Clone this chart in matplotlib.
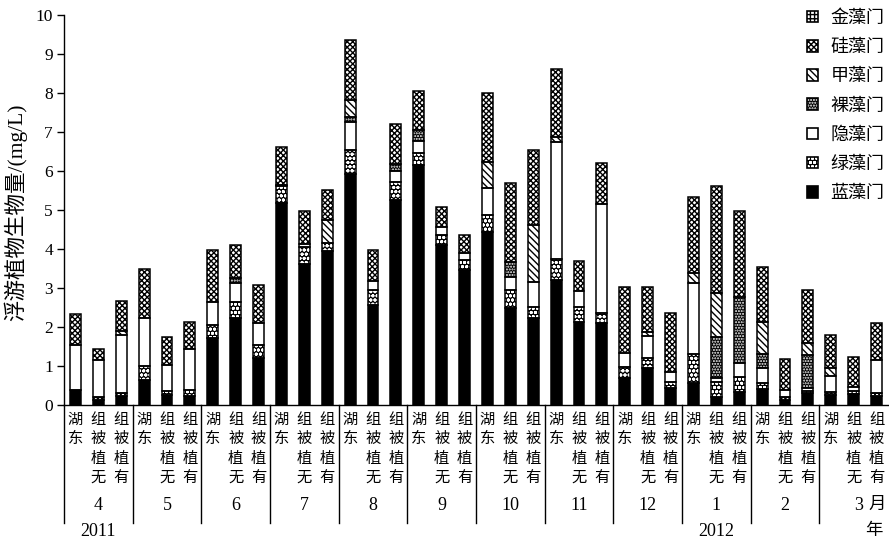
import matplotlib
matplotlib.use('Agg')
import matplotlib.pyplot as plt
from matplotlib.patches import Patch
import numpy as np

# ---------------- data ----------------
months = ['4', '5', '6', '7', '8', '9', '10', '11', '12', '1', '2', '3']
groups = ['东湖', '无植被组', '有植被组']
years = ['2011', '2012']
phyla = ['蓝藻门', '绿藻门', '隐藻门', '裸藻门', '甲藻门', '硅藻门', '金藻门']

cyano = [0.38, 0.12, 0.22, 0.64, 0.26, 0.23, 1.71, 2.22, 1.20,
         5.19, 3.61, 3.95, 5.92, 2.56, 5.26, 6.15, 4.10, 3.46,
         4.43, 2.48, 2.22, 3.21, 2.14, 2.09, 0.68, 0.94, 0.43,
         0.56, 0.21, 0.34, 0.40, 0.13, 0.30, 0.26, 0.28, 0.24]
chloro = [0.00, 0.09, 0.10, 0.36, 0.09, 0.15, 0.34, 0.43, 0.34,
          0.43, 0.45, 0.20, 0.62, 0.39, 0.47, 0.30, 0.26, 0.26,
          0.44, 0.47, 0.30, 0.53, 0.38, 0.26, 0.30, 0.26, 0.17,
          0.75, 0.39, 0.39, 0.16, 0.08, 0.06, 0.08, 0.07, 0.08]
crypto = [1.16, 0.94, 1.47, 1.22, 0.68, 1.05, 0.60, 0.47, 0.57,
          0.03, 0.07, 0.00, 0.72, 0.24, 0.28, 0.33, 0.21, 0.17,
          0.69, 0.34, 0.64, 3.00, 0.41, 2.80, 0.35, 0.57, 0.25,
          1.83, 0.08, 0.34, 0.38, 0.17, 0.07, 0.40, 0.12, 0.83]
eugleno = [0.00, 0.00, 0.00, 0.00, 0.00, 0.00, 0.00, 0.13, 0.00,
           0.00, 0.00, 0.00, 0.13, 0.00, 0.18, 0.27, 0.00, 0.00,
           0.00, 0.38, 0.00, 0.00, 0.00, 0.00, 0.00, 0.00, 0.00,
           0.00, 1.07, 1.71, 0.38, 0.00, 0.84, 0.00, 0.00, 0.00]
pyrro = [0.00, 0.00, 0.10, 0.00, 0.00, 0.00, 0.00, 0.00, 0.00,
         0.00, 0.00, 0.60, 0.43, 0.00, 0.00, 0.00, 0.00, 0.00,
         0.68, 0.00, 1.46, 0.13, 0.00, 0.00, 0.00, 0.10, 0.00,
         0.25, 1.11, 0.00, 0.82, 0.00, 0.32, 0.20, 0.00, 0.00]
bacillario = [0.79, 0.29, 0.78, 1.26, 0.72, 0.71, 1.32, 0.85, 0.97,
              0.97, 0.85, 0.76, 1.54, 0.78, 1.01, 1.00, 0.50, 0.47,
              1.77, 2.03, 1.92, 1.75, 0.77, 1.06, 1.70, 1.16, 1.52,
              1.95, 2.76, 2.20, 1.39, 0.79, 1.36, 0.85, 0.75, 0.96]
chryso = [0.0] * 36

series = [cyano, chloro, crypto, eugleno, pyrro, bacillario, chryso]

# ---------------- styles ----------------
# (face colour, hatch, hatch colour)
styles = {
    '蓝藻门': ('black', None, 'black'),
    '绿藻门': ('black', 'oooo', 'white'),
    '隐藻门': ('white', None, 'white'),
    '裸藻门': ('black', '......', 'white'),
    '甲藻门': ('white', '\\\\\\\\\\', 'black'),
    '硅藻门': ('white', 'xxxxxx', 'black'),
    '金藻门': ('white', '++++', 'black'),
}

plt.rcParams['hatch.linewidth'] = 1.0
CJK = ['Noto Sans CJK SC', 'DejaVu Sans']
SERIF = ['Liberation Serif', 'Noto Sans CJK SC']

W, H = 889, 541
fig = plt.figure(figsize=(W / 100, H / 100), dpi=100)
fig.patch.set_facecolor('white')
x0, x1, ytop, ybot = 64, 888, 15, 405
ax = fig.add_axes([x0 / W, 1 - ybot / H, (x1 - x0) / W, (ybot - ytop) / H])

n = len(cyano)
x = np.arange(n)
bw = 0.48
bottom = np.zeros(n)
for name, vals in zip(phyla, series):
    v = np.array(vals, dtype=float)
    m = v > 0
    face, hatch, hc = styles[name]
    if m.any():
        ax.bar(x[m], v[m], bw, bottom=bottom[m], color=face, edgecolor=hc,
               hatch=hatch, linewidth=0, zorder=2)
        ax.bar(x[m], v[m], bw, bottom=bottom[m], fill=False,
               edgecolor='black', linewidth=1.1, zorder=3)
    bottom = bottom + v

ax.set_xlim(-0.5, n - 0.5)
ax.set_ylim(0, 10)
ax.set_yticks(range(0, 11))
ax.set_xticks([])
for s in ['top', 'right']:
    ax.spines[s].set_visible(False)
for s in ['left', 'bottom']:
    ax.spines[s].set_linewidth(1.0)
ax.tick_params(axis='y', direction='out', length=5, width=1.0,
               labelsize=12.5, pad=3)
for lab in ax.get_yticklabels():
    lab.set_fontfamily(SERIF)

ppu = (ybot - ytop) / 10.0  # pixels per unit


def ydat(py):
    return (ybot - py) / ppu


def xdat(px):
    return (px - x0) / ((x1 - x0) / n) - 0.5


# group separators extending below the axis
for g in range(len(months)):
    ax.plot([3 * g - 0.5, 3 * g - 0.5], [0, ydat(523)], color='black',
            lw=1.0, clip_on=False, zorder=1)

# category labels (stacked characters)
pitch = 19.3
for i in range(n):
    lab = groups[i % 3]
    for k, ch in enumerate(lab[::-1]):
        ax.text(i, ydat(410 + pitch / 2 + pitch * k), ch, ha='center',
                va='center', fontsize=11, family=CJK, clip_on=False)

# month labels
for g, mlab in enumerate(months):
    if mlab == '3':
        ax.text(xdat(859), ydat(505), mlab, ha='center', va='center',
                fontsize=13, family=SERIF, clip_on=False)
    else:
        ax.text(3 * g + 1, ydat(505), mlab, ha='center', va='center',
                fontsize=13, family=SERIF, clip_on=False)
ax.text(xdat(877), ydat(504), '月', ha='center', va='center',
        fontsize=12.5, family=CJK, clip_on=False)
ax.text(xdat(874), ydat(530), '年', ha='center', va='center',
        fontsize=12.5, family=CJK, clip_on=False)
ax.text(1, ydat(531), years[0], ha='center', va='center', fontsize=13,
        family=SERIF, clip_on=False)
ax.text(28, ydat(531), years[1], ha='center', va='center', fontsize=13,
        family=SERIF, clip_on=False)

# y label
fig.text(16 / W, 1 - 212 / H, '浮游植物生物量/(mg/L)', rotation=90,
         ha='center', va='center', fontsize=15.5, family=SERIF)

# legend
handles = []
labels = []
for name in phyla[::-1]:
    face, hatch, hc = styles[name]
    p1 = Patch(facecolor=face, edgecolor=hc, hatch=hatch, linewidth=0)
    p2 = Patch(fill=False, edgecolor='black', linewidth=1.2)
    handles.append((p1, p2))
    labels.append(name)
leg = fig.legend(handles, labels, loc='upper left',
                 bbox_to_anchor=(807 / W, 1 - 9 / H), frameon=False,
                 borderpad=0, borderaxespad=0, handlelength=0.6,
                 handleheight=0.6, handletextpad=0.7, labelspacing=0.62,
                 prop={'family': CJK, 'size': 13})

fig.savefig('out.png', dpi=100, facecolor='white')
